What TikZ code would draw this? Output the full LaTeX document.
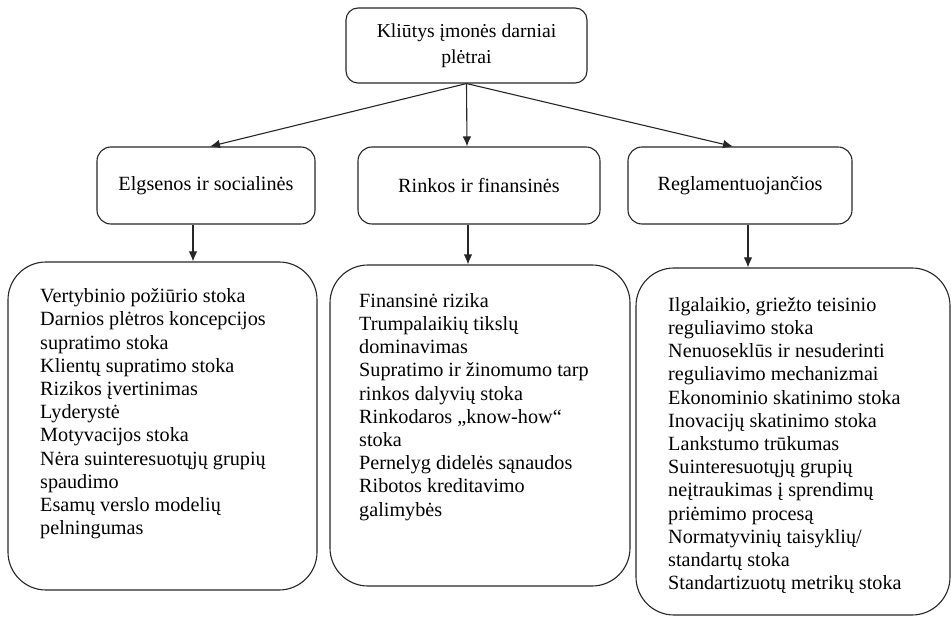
\documentclass[tikz,border=0pt]{standalone}
\usepackage{fontspec}
\setmainfont{Liberation Serif}
\usetikzlibrary{arrows.meta}
\begin{document}
\begin{tikzpicture}[x=1pt,y=-1pt,
  frame/.style={draw=black!85, line width=1.1pt, rounded corners=#1, inner sep=0pt},
  headbox/.style={frame=12pt, align=center, font=\fontsize{19.7}{26}\selectfont},
  groupbox/.style={frame=14pt, minimum height=77pt, align=center, font=\fontsize{20.2}{23}\selectfont},
  listbox/.style={frame=38pt},
  listtext/.style={anchor=north west, inner sep=0pt, align=left, font=\fontsize{20.2}{23.2}\selectfont},
  arr/.style={draw=black!85, line width=1.1pt, -{Latex[length=10pt,width=8.5pt]}}
]
\useasboundingbox (0,0) rectangle (951,617);

% top heading
\node[headbox, minimum width=241pt, minimum height=75pt] (top) at (466.5,45.5)
  {Kliūtys įmonės darniai\\plėtrai};

% three groups
\node[groupbox, minimum width=218pt] (g1) at (206,185.5) {Elgsenos ir socialinės};
\node[groupbox, minimum width=242pt] (g2) at (479,185.5) {Rinkos ir finansinės};
\node[groupbox, minimum width=224pt] (g3) at (740,185.5) {Reglamentuojančios};

% list frames
\node[listbox, minimum width=309pt, minimum height=328pt] (l1) at (162.5,426) {};
\node[listbox, minimum width=300pt, minimum height=321pt] (l2) at (480,425.5) {};
\node[listbox, minimum width=314pt, minimum height=347pt] (l3) at (793,441.5) {};

% list texts
\node[listtext] (t1) at (40,288.5) {%
Vertybinio požiūrio stoka\\
Darnios plėtros koncepcijos\\
supratimo stoka\\
Klientų supratimo stoka\\
Rizikos įvertinimas\\
Lyderystė\\
Motyvacijos stoka\\
Nėra suinteresuotųjų grupių\\
spaudimo\\
Esamų verslo modelių\\
pelningumas};

\node[listtext] (t2) at (359,293) {%
Finansinė rizika\\
Trumpalaikių tikslų\\
dominavimas\\
Supratimo ir žinomumo tarp\\
rinkos dalyvių stoka\\
Rinkodaros „know-how“\\
stoka\\
Pernelyg didelės sąnaudos\\
Ribotos kreditavimo\\
galimybės};

\node[listtext] (t3) at (668,297) {%
Ilgalaikio, griežto teisinio\\
reguliavimo stoka\\
Nenuoseklūs ir nesuderinti\\
reguliavimo mechanizmai\\
Ekonominio skatinimo stoka\\
Inovacijų skatinimo stoka\\
Lankstumo trūkumas\\
Suinteresuotųjų grupių\\
neįtraukimas į sprendimų\\
priėmimo procesą\\
Normatyvinių taisyklių/\\
standartų stoka\\
Standartizuotų metrikų stoka};

% connectors
\draw[arr] (top.south) -- ([xshift=4pt]g1.north);
\draw[arr] (top.south) -- ([xshift=-12pt]g2.north);
\draw[arr] (top.south) -- ([xshift=-7pt]g3.north);
\draw[arr] ([xshift=-13pt]g1.south) -- ([xshift=30.5pt]l1.north);
\draw[arr] ([xshift=-11pt]g2.south) -- ([xshift=-12pt]l2.north);
\draw[arr] ([xshift=8pt]g3.south) -- ([xshift=-45pt]l3.north);
\end{tikzpicture}
\end{document}
